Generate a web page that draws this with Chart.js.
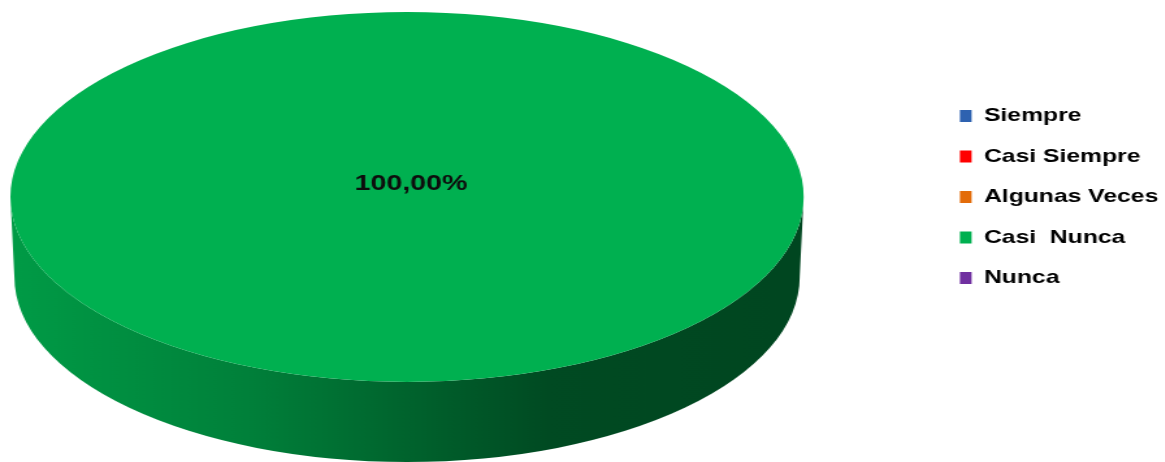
<!DOCTYPE html>
<html>
<head>
<meta charset="utf-8">
<script src="https://cdn.jsdelivr.net/npm/chart.js@4.4.1/dist/chart.umd.min.js"></script>
<style>
  html, body { margin: 0; padding: 0; background: #fff; overflow: hidden; width: 1165px; height: 462px; }
  /* the whole figure is drawn on a narrower canvas and widened horizontally */
  #wrap { width: 901px; height: 462px; transform: scaleX(1.3); transform-origin: 0 0; }
  canvas { display: block; }
</style>
</head>
<body>
<div id="wrap"><canvas id="chart" width="901" height="462"></canvas></div>
<script>
// Answer categories and their share of responses (%)
const categories = ['Siempre', 'Casi Siempre', 'Algunas Veces', 'Casi  Nunca', 'Nunca'];
const percentages = [0, 0, 0, 100, 0];
const sliceColors = ['#2E62B0', '#FF0000', '#E36C0A', '#00B050', '#7030A0'];

function shade(hex, f) {
  const n = parseInt(hex.slice(1), 16);
  const r = (n >> 16) & 255, g = (n >> 8) & 255, b = n & 255;
  return `rgb(${Math.round(r * f)},${Math.round(g * f)},${Math.round(b * f)})`;
}

function formatPct(v) {
  return v.toFixed(2).replace('.', ',') + '%';
}

// Turns the flat pie into a tilted disc: draws the front rim of every slice,
// then squashes the slices themselves into the top face.
const disk3d = {
  id: 'disk3d',
  geometry(chart, o) {
    const ca = chart.chartArea;
    const arc = chart.getDatasetMeta(0).data[0];
    const r = arc.outerRadius;
    const rx = r * o.stretch, ry = r * o.tilt, depth = r * o.depth;
    return { x: arc.x, y: arc.y, r, rx, ry, depth, cx: ca.left + rx, cy: ca.top + ry };
  },
  beforeDatasetsDraw(chart, args, o) {
    const g = this.geometry(chart, o);
    const ctx = chart.ctx;
    const meta = chart.getDatasetMeta(0);
    const colors = chart.data.datasets[0].backgroundColor;
    const rxb = g.rx * o.bottomNarrow;
    ctx.save();
    meta.data.forEach((arc, i) => {
      const a0 = arc.startAngle, a1 = arc.endAngle;
      if (a1 - a0 <= 0) return;
      const grad = ctx.createLinearGradient(g.cx - g.rx, 0, g.cx + g.rx, 0);
      o.rimShades.forEach(([pos, f]) => grad.addColorStop(pos, shade(colors[i], f)));
      for (let k = -1; k <= 1; k++) {
        const lo = Math.max(a0, 2 * Math.PI * k);
        const hi = Math.min(a1, Math.PI + 2 * Math.PI * k);
        if (hi <= lo) continue;
        ctx.beginPath();
        ctx.ellipse(g.cx, g.cy, g.rx, g.ry, 0, lo, hi, false);
        ctx.ellipse(g.cx, g.cy + g.depth, rxb, g.ry, 0, hi, lo, true);
        ctx.closePath();
        ctx.fillStyle = grad;
        ctx.fill();
      }
    });
    ctx.translate(g.cx, g.cy);
    ctx.scale(g.rx / g.r, g.ry / g.r);
    ctx.translate(-g.x, -g.y);
  },
  afterDatasetsDraw(chart, args, o) {
    const ctx = chart.ctx;
    ctx.restore();
    const g = this.geometry(chart, o);
    const meta = chart.getDatasetMeta(0);
    const values = chart.data.datasets[0].data;
    ctx.save();
    ctx.font = o.labelFont;
    ctx.fillStyle = o.labelColor;
    ctx.textAlign = 'center';
    ctx.textBaseline = 'middle';
    meta.data.forEach((arc, i) => {
      if (!values[i]) return;
      const span = arc.endAngle - arc.startAngle;
      let lx, ly;
      if (span >= 2 * Math.PI - 1e-6) {
        lx = g.cx + g.rx * 0.01;
        ly = g.cy - g.ry * 0.07;
      } else {
        const mid = (arc.startAngle + arc.endAngle) / 2;
        lx = g.cx + Math.cos(mid) * g.rx * 0.6;
        ly = g.cy + Math.sin(mid) * g.ry * 0.6;
      }
      ctx.fillText(formatPct(values[i]), lx, ly);
    });
    ctx.restore();
  }
};

new Chart(document.getElementById('chart'), {
  type: 'pie',
  data: {
    labels: categories,
    datasets: [{
      data: percentages,
      backgroundColor: sliceColors,
      borderWidth: 0,
      clip: false
    }]
  },
  options: {
    responsive: false,
    animation: false,
    events: [],
    layout: { padding: { left: 8, top: 12, right: 0, bottom: 0 } },
    plugins: {
      tooltip: { enabled: false },
      legend: {
        position: 'right',
        align: 'start',
        title: { display: true, text: '', font: { size: 12, lineHeight: 1 }, padding: { top: 61, bottom: 0 } },
        labels: {
          boxWidth: 9,
          boxHeight: 12,
          padding: 21.5,
          color: '#000',
          font: { family: 'Arial, "Liberation Sans", sans-serif', size: 19, weight: 'bold' }
        }
      },
      disk3d: {
        stretch: 1.356,
        tilt: 0.822,
        depth: 0.356,
        bottomNarrow: 0.99,
        rimShades: [[0, 0.88], [0.3, 0.73], [0.55, 0.52], [0.68, 0.42], [1, 0.4]],
        labelFont: 'bold 22px Arial, "Liberation Sans", sans-serif',
        labelColor: '#0d0d0d'
      }
    }
  },
  plugins: [disk3d]
});
</script>
</body>
</html>
